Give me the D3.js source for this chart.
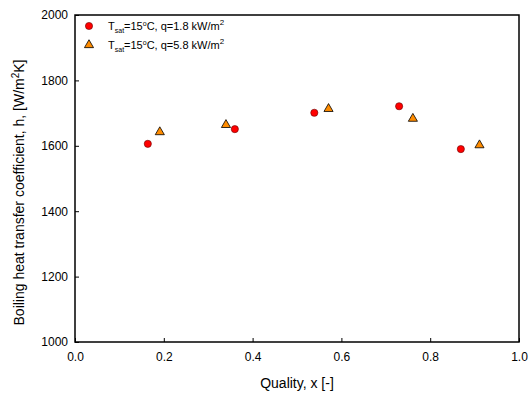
<!DOCTYPE html>
<html lang="en">
<head>
  <meta charset="UTF-8" />
  <title>Boiling heat transfer coefficient vs quality</title>
  <style>
    body { margin: 0; padding: 0; background: #fff; font-family: Arial, "Liberation Sans", sans-serif; }
    svg text { font-family: Arial, "Liberation Sans", sans-serif; fill: #000; }
  </style>
  <script src="https://d3js.org/d3.v7.min.js"></script>
</head>
<body>
<svg id="chart" width="531" height="394"></svg>
<script>
// data
const qualityLow = [0.164, 0.36, 0.539, 0.73, 0.869];
const hLow = [1606, 1651, 1701, 1721, 1590];
const qualityHigh = [0.191, 0.34, 0.571, 0.761, 0.911];
const hHigh = [1642, 1664, 1713, 1683, 1602];
const xTicks = [0, 0.2, 0.4, 0.6, 0.8, 1.0];
const yTicks = [1000, 1200, 1400, 1600, 1800, 2000];

const svg = d3.select("#chart");
const margin = {top: 15, right: 12, bottom: 52, left: 75};
const width = 531, height = 394;

const x = d3.scaleLinear().domain([0, 1]).range([margin.left, width - margin.right]);
const y = d3.scaleLinear().domain([1000, 2000]).range([height - margin.bottom, margin.top]);

// axes, ticks pointing inward
svg.append("g")
  .attr("transform", `translate(0,${y(1000)})`)
  .call(d3.axisBottom(x).tickValues(xTicks).tickSizeInner(-4).tickSizeOuter(0).tickPadding(10).tickFormat(d3.format(".1f")))
  .call(g => g.select(".domain").remove())
  .call(g => g.selectAll("text").attr("font-size", 12));

svg.append("g")
  .attr("transform", `translate(${x(0)},0)`)
  .call(d3.axisLeft(y).tickValues(yTicks).tickSizeInner(-4).tickSizeOuter(0).tickPadding(7).tickFormat(d3.format("d")))
  .call(g => g.select(".domain").remove())
  .call(g => g.selectAll("text").attr("font-size", 12));

// frame
svg.append("rect")
  .attr("x", x(0)).attr("y", y(2000))
  .attr("width", x(1) - x(0)).attr("height", y(1000) - y(2000))
  .attr("fill", "none").attr("stroke", "#000").attr("stroke-width", 1.5);

// axis titles
svg.append("text")
  .attr("x", (x(0) + x(1)) / 2).attr("y", 388)
  .attr("text-anchor", "middle").attr("font-size", 14)
  .text("Quality, x [-]");

const yl = svg.append("text")
  .attr("transform", `translate(24,${(y(1000) + y(2000)) / 2 + 14}) rotate(-90)`)
  .attr("text-anchor", "middle").attr("font-size", 14);
yl.append("tspan").text("Boiling heat transfer coefficient, h, [W/m");
yl.append("tspan").attr("font-size", 10).attr("dy", -5).text("2");
yl.append("tspan").attr("dy", 5).text("K]");

// markers
const tri = d3.symbol().type(d3.symbolTriangle).size(36);

svg.append("g").selectAll("circle")
  .data(qualityLow.map((q, i) => [q, hLow[i]]))
  .join("circle")
  .attr("cx", d => x(d[0])).attr("cy", d => y(d[1]))
  .attr("r", 3.6).attr("fill", "#ff0000").attr("stroke", "#600").attr("stroke-width", 0.6);

svg.append("g").selectAll("path")
  .data(qualityHigh.map((q, i) => [q, hHigh[i]]))
  .join("path")
  .attr("d", tri)
  .attr("transform", d => `translate(${x(d[0])},${y(d[1])})`)
  .attr("fill", "#ff8c00").attr("stroke", "#000").attr("stroke-width", 0.8);

// legend
const legend = [
  {label: "1.8", kind: "circle"},
  {label: "5.8", kind: "tri"}
];
legend.forEach((d, i) => {
  const ly = 26 + i * 19;
  if (d.kind === "circle") {
    svg.append("circle").attr("cx", 89).attr("cy", ly).attr("r", 3.6)
      .attr("fill", "#ff0000").attr("stroke", "#600").attr("stroke-width", 0.6);
  } else {
    svg.append("path").attr("d", tri).attr("transform", `translate(89,${ly})`)
      .attr("fill", "#ff8c00").attr("stroke", "#000").attr("stroke-width", 0.8);
  }
  const t = svg.append("text").attr("x", 108).attr("y", ly + 4).attr("font-size", 11);
  t.append("tspan").text("T");
  t.append("tspan").attr("font-size", 7).attr("dy", 3).text("sat");
  t.append("tspan").attr("dy", -3).text("=15");
  t.append("tspan").attr("font-size", 7).attr("dy", -4).text("o");
  t.append("tspan").attr("dy", 4).text(`C, q=${d.label} kW/m`);
  t.append("tspan").attr("font-size", 8).attr("dy", -5).text("2");
});
</script>
</body>
</html>
